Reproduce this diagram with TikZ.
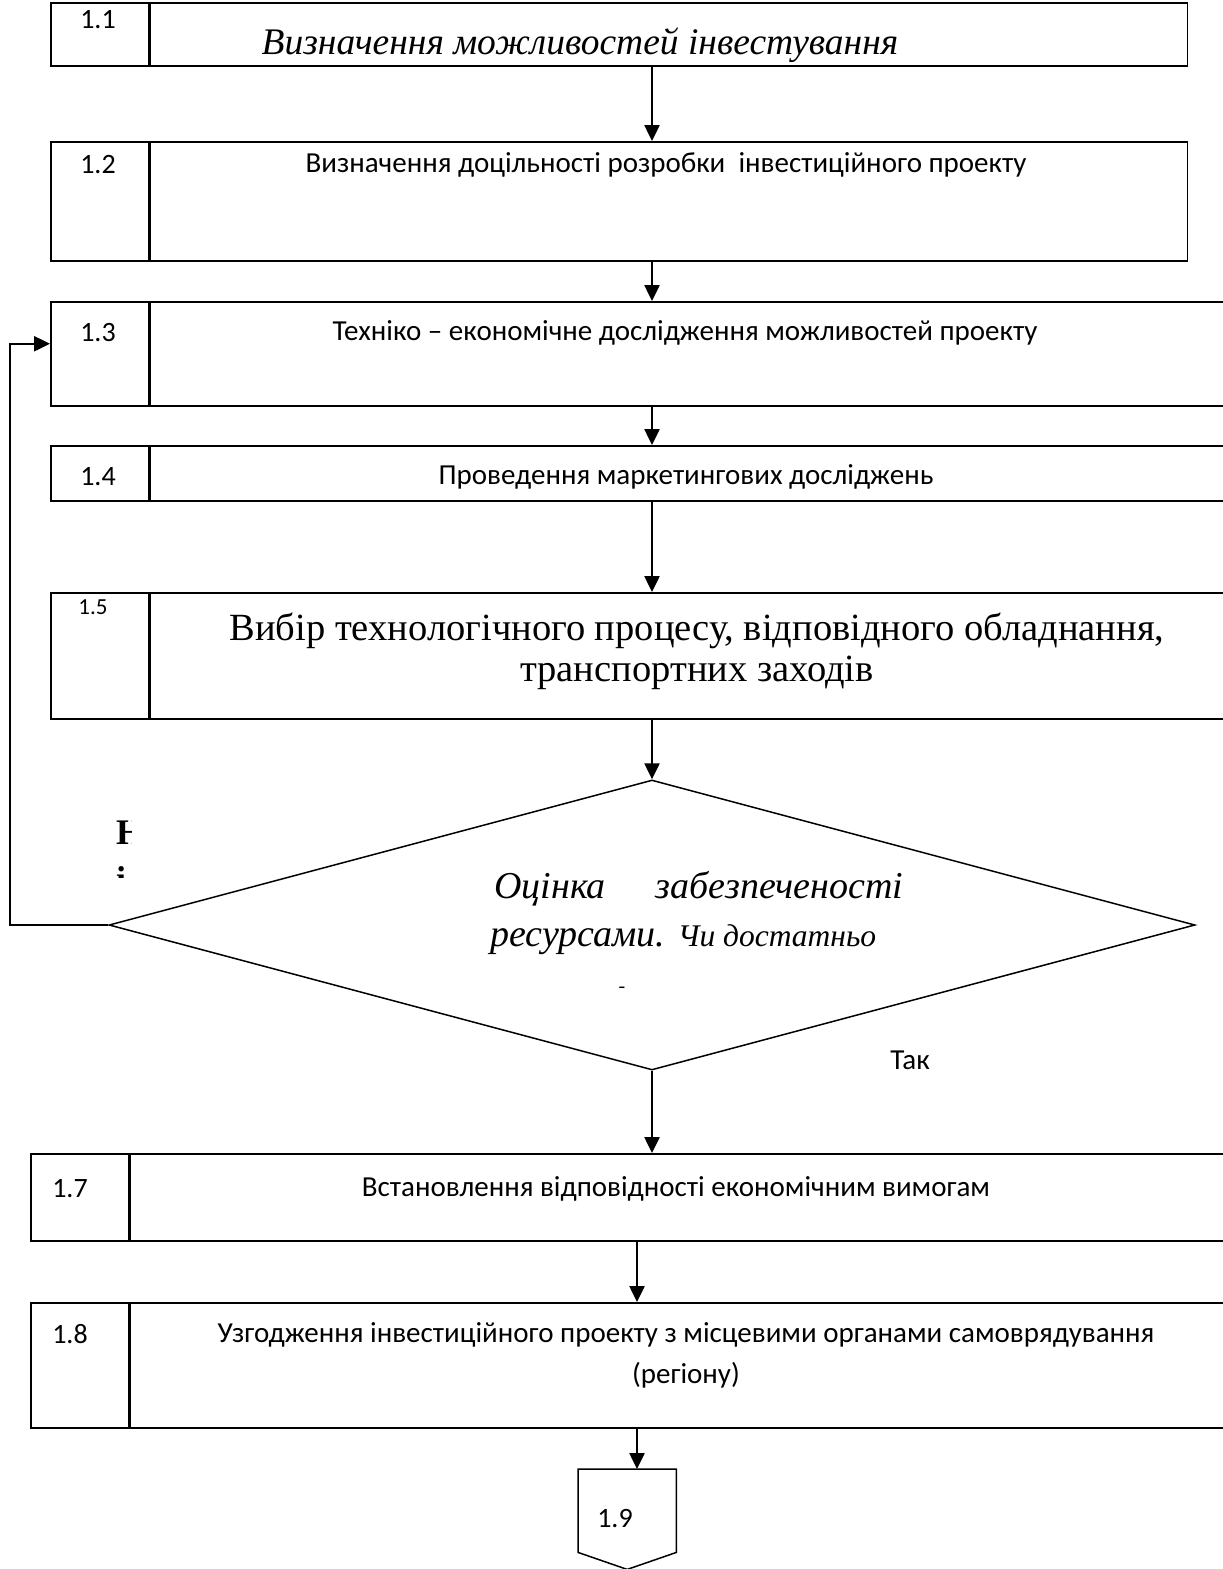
\documentclass[tikz,border=0pt]{standalone}
\usepackage{fontspec}
\setmainfont{Liberation Serif}
\newfontfamily\calib{Carlito}
\usetikzlibrary{arrows.meta,shapes.geometric,calc,positioning}

\begin{document}
\begin{tikzpicture}[x=1pt,y=-1pt,
	box/.style={draw, line width=1.5pt, inner sep=0pt, anchor=north west},
	num/.style={font=\calib\fontsize{28}{32}\selectfont, inner sep=0pt},
	txt/.style={font=\calib\fontsize{29}{41}\selectfont, inner sep=0pt, align=center},
	big/.style={font=\fontsize{38.5}{41}\selectfont, inner sep=0pt, align=center},
	arr/.style={line width=2.5pt, -{Triangle[length=16pt,width=15pt]}}]

	\useasboundingbox (0,0) rectangle (1223,1569);

	% blocks 1.1 -- 1.5
	\node[box, minimum width=98, minimum height=63] (n11) at (50,2) {};
	\node[box, minimum width=1037, minimum height=63] (b11) at (n11.north east) {};
	\node[box, minimum width=98, minimum height=119] (n12) at (50,141) {};
	\node[box, minimum width=1037, minimum height=119] (b12) at (n12.north east) {};
	\node[box, minimum width=98, minimum height=104] (n13) at (50,301) {};
	\node[box, minimum width=1074, minimum height=104] (b13) at (n13.north east) {};
	\node[box, minimum width=98, minimum height=55] (n14) at (50,445) {};
	\node[box, minimum width=1074, minimum height=55] (b14) at (n14.north east) {};
	\node[box, minimum width=98, minimum height=126] (n15) at (50,592) {};
	\node[box, minimum width=1074, minimum height=126] (b15) at (n15.north east) {};

	\node[num] (t11) at (98,20) {1.1};
	\node[num] (t12) at (98,165) {1.2};
	\node[num] (t13) at (98,333) {1.3};
	\node[num] (t14) at (98,477) {1.4};
	\node[num, font=\calib\fontsize{23}{27}\selectfont] (t15) at (93,607) {1.5};

	\node[big, font=\itshape\fontsize{37.5}{42}\selectfont] (s11) at (580,45) {Визначення можливостей інвестування};
	\node[txt] (s12) at (666,165) {Визначення доцільності розробки \ інвестиційного проекту};
	\node[txt] (s13) at (685,333) {Техніко – економічне дослідження можливостей проекту};
	\node[txt] (s14) at (686,477) {Проведення маркетингових досліджень};
	\node[big] (s15) at (697,651) {Вибір технологічного процесу, відповідного обладнання,\\транспортних заходів};

	% decision
	\node[shape=diamond, draw, line width=1.5pt, inner sep=0pt,
		minimum width=1086, minimum height=290] (d) at (652,925) {};
	\node[font=\itshape\fontsize{38}{42}\selectfont, anchor=base west, inner sep=0pt] (q1) at (494,898) {Оцінка\hspace{50pt}забезпеченості};
	\node[font=\itshape\fontsize{38}{42}\selectfont, anchor=base west, inner sep=0pt] (q2) at (490,946) {ресурсами. {\fontsize{31.5}{35}\selectfont Чи достатньо}};
	\node[font=\fontsize{20}{24}\selectfont, inner sep=0pt] (q3) at (622,990) {-};
	\node[txt] (yes) at (910,1060) {Так};

	\begin{scope}
		\clip (110,810) rectangle (131,877);
		\node[font=\bfseries\fontsize{36}{40}\selectfont, anchor=base west, inner sep=0pt] (no1) at (116,844) {Н};
		\node[font=\bfseries\fontsize{36}{40}\selectfont, anchor=base west, inner sep=0pt] (no2) at (116,891) {і};
	\end{scope}

	% blocks 1.7 -- 1.9
	\node[box, minimum width=98, minimum height=87] (n17) at (30,1153) {};
	\node[box, minimum width=1094, minimum height=87] (b17) at (n17.north east) {};
	\node[box, minimum width=98, minimum height=125] (n18) at (30,1302) {};
	\node[box, minimum width=1094, minimum height=125] (b18) at (n18.north east) {};

	\node[num] (t17) at (70,1189) {1.7};
	\node[num] (t18) at (70,1334) {1.8};
	\node[txt] (s17) at (676,1189) {Встановлення відповідності економічним вимогам};
	\node[txt] (s18) at (686,1355) {Узгодження інвестиційного проекту з місцевими органами самоврядування\\(регіону)};

	\node[inner sep=0pt, minimum width=98, minimum height=83, anchor=north west] (n19) at (578,1469) {};
	\draw[line width=1.5pt] (n19.south west) -- (n19.north west) -- (n19.north east)
		-- (n19.south east) -- ($(n19.south)+(0,17)$) -- cycle;
	\node[num] (t19) at (615,1519) {1.9};

	% connectors
	\coordinate (ax) at (d.north);
	\coordinate (bx) at (637,0);
	\coordinate (lp) at (10,0);
	\draw[arr] (b11.south -| ax) -- (b12.north -| ax);
	\draw[arr] (b12.south -| ax) -- (b13.north -| ax);
	\draw[arr] (b13.south -| ax) -- (b14.north -| ax);
	\draw[arr] (b14.south -| ax) -- (b15.north -| ax);
	\draw[arr] (b15.south -| ax) -- (d.north);
	\draw[arr] (d.south) -- (b17.north -| d.south);
	\draw[arr] (b17.south -| bx) -- (b18.north -| bx);
	\draw[arr] (b18.south -| bx) -- (n19.north -| bx);
	\draw[arr] (d.west) -- (d.west -| lp) |- ([yshift=10pt]n13.west);
\end{tikzpicture}
\end{document}
